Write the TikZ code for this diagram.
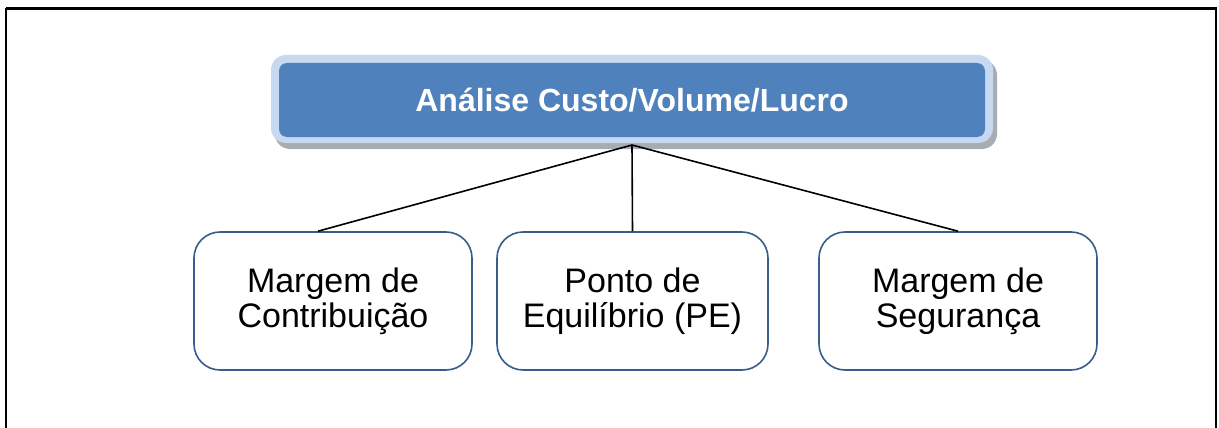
\documentclass[tikz,border=0pt]{standalone}
\usepackage{fontspec}
\setmainfont{Liberation Sans}
\definecolor{outerblue}{HTML}{C6D9F1}
\definecolor{innerblue}{HTML}{4F81BD}
\definecolor{edgeblue}{HTML}{385D8A}
\definecolor{shadowgray}{HTML}{A8ACB3}
\begin{document}
\begin{tikzpicture}[x=1pt,y=-1pt,
  leafbox/.style={draw=edgeblue, line width=1.6pt, fill=white, rounded corners=26pt, minimum width=278pt, minimum height=138pt, align=center, font=\fontsize{34}{35}\selectfont, inner sep=0pt},
  link/.style={draw=black, line width=1.6pt}]
\useasboundingbox (0,0) rectangle (1219,428);
% frame
\draw[line width=3pt] (6,9) -- (1216.5,9);
\draw[line width=2pt] (6,428) -- (6,8);
\draw[line width=1.5pt] (1216,428) -- (1216,8);
% top box: shadow, outer, inner
\fill[shadowgray, rounded corners=15pt] (275,60) rectangle (997,149);
\fill[outerblue, rounded corners=15pt] (271,55) rectangle (993,143);
\node[fill=innerblue, rounded corners=8pt, minimum width=706pt, minimum height=74pt, inner sep=0pt, text=white, font=\bfseries\fontsize{32}{36}\selectfont] (top) at (632,100) {Análise Custo/Volume/Lucro};
\coordinate (hub) at (632,145);
% leaves
\node[leafbox] (l1) at (333,301) {Margem de\\Contribuição};
\node[leafbox, minimum width=271pt] (l2) at (632.5,301) {Ponto de\\Equilíbrio (PE)};
\node[leafbox] (l3) at (958,301) {Margem de\\Segurança};
% connectors
\draw[link] (hub) -- (l1.north -| 318,0);
\draw[link] (hub) -- (l2.north);
\draw[link] (hub) -- (l3.north);
\end{tikzpicture}
\end{document}
